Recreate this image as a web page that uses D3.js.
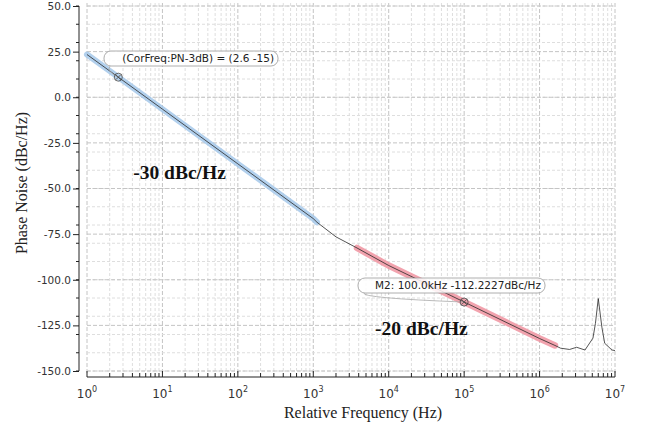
<!DOCTYPE html>
<html>
<head>
<meta charset="utf-8">
<script src="https://cdn.jsdelivr.net/npm/d3@7"></script>
<style>
  body { margin: 0; background: #fff; }
  svg { display: block; }
  .tick-label { font-family: "DejaVu Sans", Verdana, sans-serif; font-size: 10.5px; fill: #333; }
  .axis-title { font-family: "Liberation Serif", "Times New Roman", serif; font-size: 16px; fill: #222; }
  .annotation { font-family: "Liberation Serif", "Times New Roman", serif; font-size: 19.5px; font-weight: bold; fill: #111; }
  .marker-label { font-family: "DejaVu Sans", Verdana, sans-serif; font-size: 10.5px; fill: #222; }
</style>
</head>
<body>
<div id="chart"></div>
<script>
// Data
const freqHz = [1, 2.6, 10, 100, 1000, 1120, 2000, 3800, 1e4, 1e5, 1e6, 1.6e6, 1.9e6, 2.5e6, 3.1e6, 4e6, 5.1e6, 5.5e6, 6e6, 6.7e6, 7.3e6, 9.1e6, 1e7];
const phaseNoise = [23.4, 11, -6.5, -36.5, -66.5, -68.5, -76.5, -82.6, -92.2, -112.2, -132.2, -136, -137.5, -138.2, -137, -138.5, -132, -124, -110.3, -126, -134.8, -138.5, -138.8];

// highlighted slope regions
const blueBand = [1, 1120];
const redBand = [3800, 1.6e6];

const yTicks = [50, 25, 0, -25, -50, -75, -100, -125, -150];
const xDecades = [0, 1, 2, 3, 4, 5, 6, 7];

const markers = [
  {f: 2.6, v: 11, label: "(CorFreq:PN-3dB) = (2.6 -15)"},
  {f: 1e5, v: -112.2227, label: "M2: 100.0kHz -112.2227dBc/Hz"}
];

const slopeNotes = [
  {f: 4.1, v: -44.6, text: "-30 dBc/Hz"},
  {f: 6.6e3, v: -130.4, text: "-20 dBc/Hz"}
];

const width = 648, height = 427;
const svg = d3.select("#chart").append("svg")
    .attr("width", width)
    .attr("height", height);

const x = d3.scaleLog().domain([1, 1e7]).range([87, 615]);
const y = d3.scaleLinear().domain([-150, 50]).range([371, 6]);

const data = freqHz.map((f, i) => ({f: f, v: phaseNoise[i]}));

// grid
const grid = svg.append("g");
const minorX = [];
for (let d = 0; d < 7; d++) {
    for (let m = 2; m <= 9; m++) minorX.push(m * Math.pow(10, d));
}
grid.selectAll(".vminor")
    .data(minorX)
    .join("line")
    .attr("x1", d => x(d)).attr("x2", d => x(d))
    .attr("y1", 3).attr("y2", 373)
    .attr("stroke", "#dedede")
    .attr("stroke-width", 1)
    .attr("stroke-dasharray", "3,2");

grid.selectAll(".vmajor")
    .data(xDecades)
    .join("line")
    .attr("x1", d => x(Math.pow(10, d))).attr("x2", d => x(Math.pow(10, d)))
    .attr("y1", 3).attr("y2", 373)
    .attr("stroke", "#c4c4c4")
    .attr("stroke-width", 1)
    .attr("stroke-dasharray", "4,2");

const minorY = d3.range(-150, 51, 10);
grid.selectAll(".hminor")
    .data(minorY)
    .join("line")
    .attr("x1", 87).attr("x2", 615)
    .attr("y1", d => y(d)).attr("y2", d => y(d))
    .attr("stroke", "#dedede")
    .attr("stroke-width", 1)
    .attr("stroke-dasharray", "3,2");

grid.selectAll(".hmajor")
    .data(yTicks)
    .join("line")
    .attr("x1", 87).attr("x2", 615)
    .attr("y1", d => y(d)).attr("y2", d => y(d))
    .attr("stroke", "#c4c4c4")
    .attr("stroke-width", 1)
    .attr("stroke-dasharray", "4,2");

// y axis
const yAxis = svg.append("g").attr("transform", "translate(79,0)");
yAxis.call(d3.axisLeft(y).tickValues(yTicks).tickFormat(d => d.toFixed(1)).tickSize(6).tickPadding(2));
yAxis.select(".domain").attr("stroke", "#222").attr("d", `M0,${y(50)}V${y(-150)}`);
yAxis.selectAll(".tick line").attr("stroke", "#222");
yAxis.selectAll(".tick text").attr("class", "tick-label").attr("fill", null);
yAxis.selectAll(".minor")
    .data(minorY)
    .join("line")
    .attr("x1", -3).attr("x2", 0)
    .attr("y1", d => y(d)).attr("y2", d => y(d))
    .attr("stroke", "#222");

// x axis, ticks pointing up
const xAxisY = 377;
const xAxis = svg.append("g").attr("transform", `translate(0,${xAxisY})`);
xAxis.append("line")
    .attr("x1", x(1)).attr("x2", x(1e7))
    .attr("stroke", "#222");
xAxis.selectAll(".xminor")
    .data(minorX)
    .join("line")
    .attr("x1", d => x(d)).attr("x2", d => x(d))
    .attr("y1", -4).attr("y2", 0)
    .attr("stroke", "#222");
xAxis.selectAll(".xmajor")
    .data(xDecades)
    .join("line")
    .attr("x1", d => x(Math.pow(10, d))).attr("x2", d => x(Math.pow(10, d)))
    .attr("y1", -6).attr("y2", 0)
    .attr("stroke", "#222");
const xl = xAxis.selectAll(".xlab")
    .data(xDecades)
    .join("text")
    .attr("class", "tick-label")
    .attr("x", d => x(Math.pow(10, d)))
    .attr("y", 21)
    .attr("text-anchor", "middle")
    .style("font-size", "12px");
xl.append("tspan").text("10");
xl.append("tspan").attr("dy", -6).style("font-size", "8px").text(d => d);

// axis titles
svg.append("text")
    .attr("class", "axis-title")
    .attr("x", 363).attr("y", 418)
    .attr("text-anchor", "middle")
    .text("Relative Frequency (Hz)");

svg.append("text")
    .attr("class", "axis-title")
    .attr("transform", "translate(27,183) rotate(-90)")
    .attr("text-anchor", "middle")
    .text("Phase Noise (dBc/Hz)");

// curve
const line = d3.line()
    .x(d => x(d.f))
    .y(d => y(d.v));

svg.append("path")
    .datum(data.filter(d => d.f >= blueBand[0] && d.f <= blueBand[1]))
    .attr("fill", "none")
    .attr("stroke", "#a4c8ea")
    .attr("stroke-opacity", 0.85)
    .attr("stroke-width", 6)
    .attr("stroke-linecap", "round")
    .attr("d", line);

svg.append("path")
    .datum(data.filter(d => d.f >= redBand[0] && d.f <= redBand[1]))
    .attr("fill", "none")
    .attr("stroke", "#f093a0")
    .attr("stroke-opacity", 0.85)
    .attr("stroke-width", 6.5)
    .attr("stroke-linecap", "round")
    .attr("d", line);

svg.append("path")
    .datum(data)
    .attr("fill", "none")
    .attr("stroke", "#2a2a2a")
    .attr("stroke-width", 0.8)
    .attr("d", line);

// markers with labels
const boxes = [
    {x0: 104, w: 174, y0: 51},
    {x0: 358, w: 187, y0: 278}
];
markers.forEach((m, i) => {
    const mx = x(m.f), my = y(m.v);
    const b = boxes[i];
    svg.append("path")
        .attr("d", `M${b.x0 + 6},${b.y0 + 15}Q${b.x0 + 2},${b.y0 + 20} ${mx},${my}`)
        .attr("fill", "none")
        .attr("stroke", "#aaa")
        .attr("stroke-width", 0.8);
    svg.append("rect")
        .attr("x", b.x0).attr("y", b.y0)
        .attr("width", b.w).attr("height", 15)
        .attr("rx", 7)
        .attr("fill", "rgba(255,255,255,0.85)")
        .attr("stroke", "#999")
        .attr("stroke-width", 0.8);
    svg.append("text")
        .attr("class", "marker-label")
        .attr("x", b.x0 + b.w - 4).attr("y", b.y0 + 11)
        .attr("text-anchor", "end")
        .text(m.label);
    svg.append("circle")
        .attr("cx", mx).attr("cy", my).attr("r", 4)
        .attr("fill", "none").attr("stroke", "#444").attr("stroke-width", 0.8);
    const r = 2.8;
    svg.append("path")
        .attr("d", `M${mx - r},${my - r}L${mx + r},${my + r}M${mx - r},${my + r}L${mx + r},${my - r}`)
        .attr("stroke", "#444").attr("stroke-width", 0.8);
});

// slope annotations
svg.selectAll(".annotation")
    .data(slopeNotes)
    .join("text")
    .attr("class", "annotation")
    .attr("x", d => x(d.f))
    .attr("y", d => y(d.v))
    .text(d => d.text);
</script>
</body>
</html>
